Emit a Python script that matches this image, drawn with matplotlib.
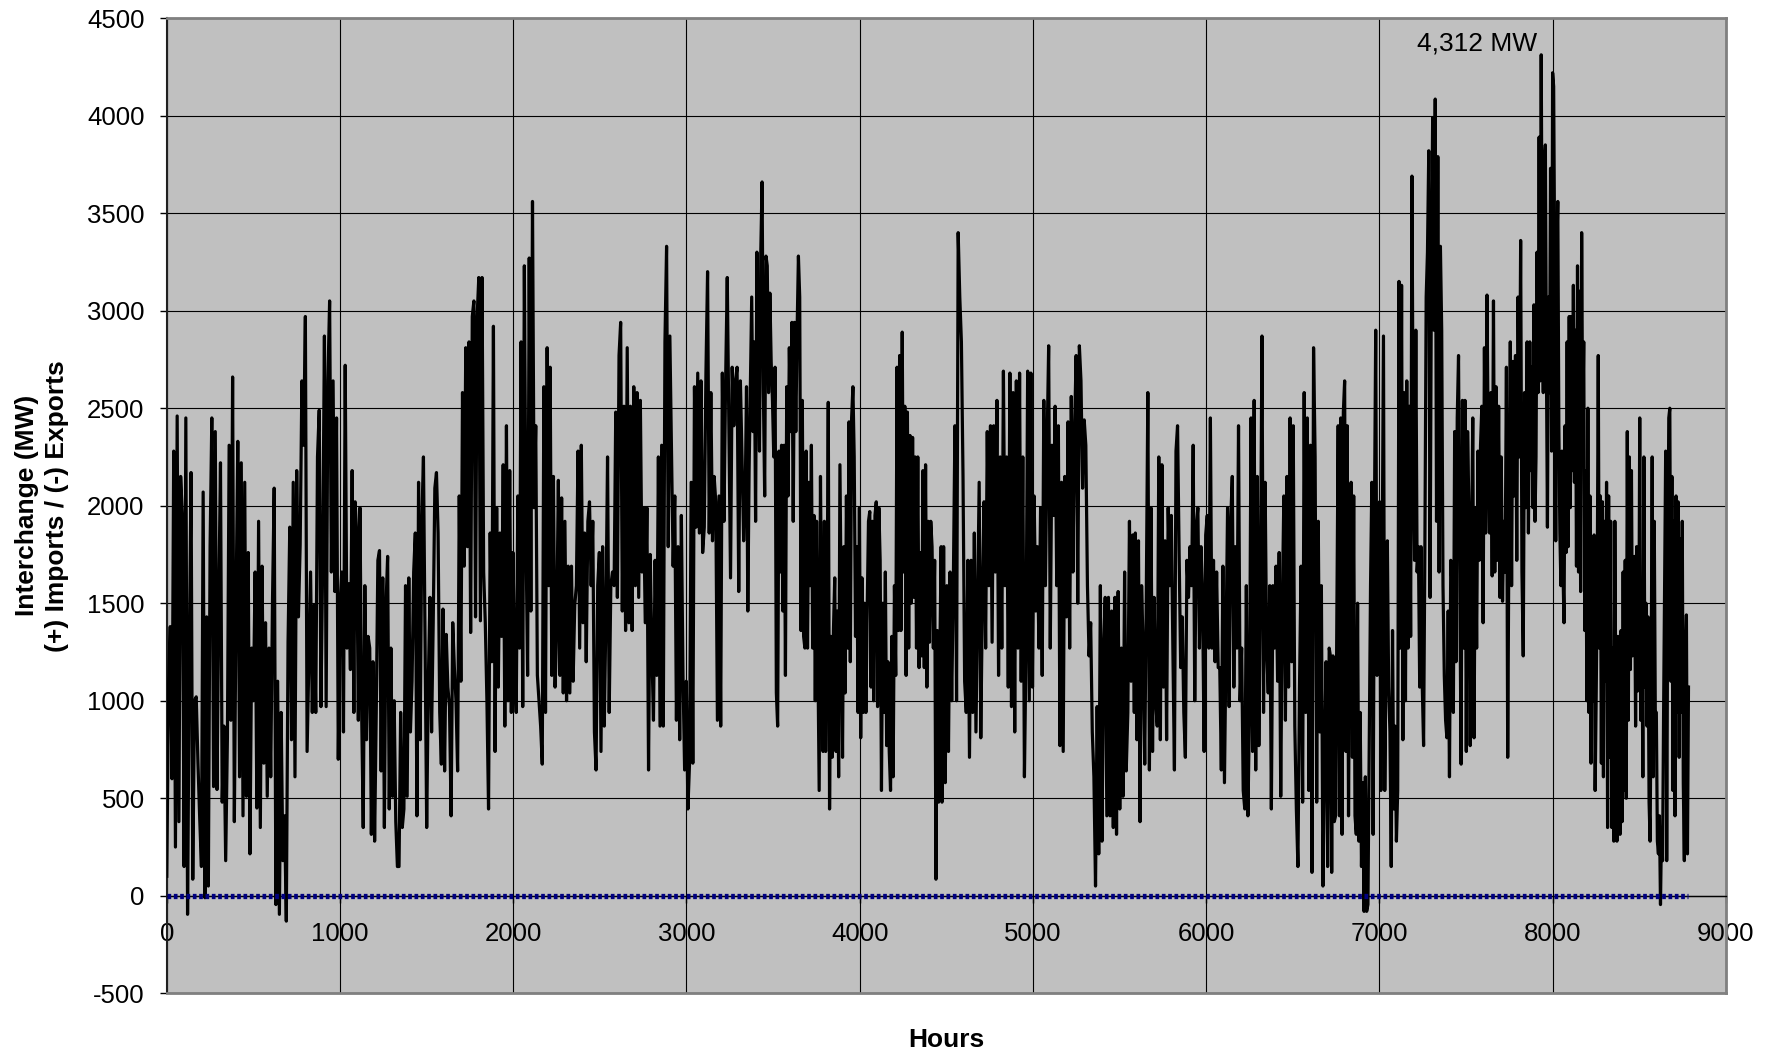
import numpy as np
import matplotlib.pyplot as plt
from matplotlib.ticker import MultipleLocator

plt.rcParams['font.family'] = ['Liberation Sans', 'DejaVu Sans']
plt.rcParams['axes.unicode_minus'] = False

# hourly interchange in 8 stretches (start hour, end hour, values in MW)
seg_start = [0, 1087, 2213, 3339, 4475, 5591, 6717, 7868]
seg_end = [1080, 2205, 3330, 4470, 5585, 6710, 7860, 8784]

mw_1 = [100, 1070, 1380, 600, 2280, 250, 2460, 380, 2150, 1950,
        150, 2450, -95, 1200, 2170, 85, 1000, 1020, 680, 400,
        150, 2070, -10, 1430, 50, 1790, 2450, 560, 2380, 545,
        1500, 2220, 480, 870, 180, 810, 2310, 900, 2660, 380,
        1500, 2330, 610, 2220, 410, 2120, 510, 1760, 215, 1270,
        1000, 1660, 450, 1920, 350, 1690, 680, 1400, 510, 1270,
        610, 1500, 2090, -45, 1100, -95, 940, 180, 410, -130,
        1300, 1890, 800, 2120, 610, 2180, 1430, 1800, 2640, 2310,
        2970, 740, 1200, 1660, 940, 1490, 940, 2250, 2490, 970,
        1720, 2870, 970, 2640, 3050, 1660, 2640, 1560, 2450, 700,
        1490, 1660, 840, 2720, 1270, 1600, 1160, 2180, 940]

mw_2 = [2020, 1860, 900, 1990, 970, 350, 1590, 800, 1330, 1270,
        315, 1200, 280, 940, 1720, 1770, 640, 1630, 350, 1490,
        1740, 445, 1270, 510, 1000, 380, 150, 150, 940, 350,
        445, 1590, 510, 1630, 840, 1100, 1660, 1860, 410, 2120,
        800, 1920, 2250, 1270, 350, 1100, 1530, 840, 1400, 2090,
        2170, 1860, 940, 675, 1470, 640, 1340, 1070, 970, 410,
        1400, 1170, 1000, 640, 2050, 1100, 2580, 1690, 2810, 1790,
        2840, 1350, 2970, 3050, 1430, 2970, 3170, 1410, 3170, 1660,
        1400, 1000, 445, 1860, 1200, 2920, 740, 1990, 1070, 1860,
        1330, 2210, 870, 2410, 1000, 2180, 940, 1760, 1200, 940,
        2050, 1270, 2840, 970, 3230, 1860, 1130, 3270, 1460, 3560,
        1990, 2410, 1130, 1000, 870, 675, 2610, 940, 2810, 1590]

mw_3 = [2710, 1130, 2150, 1070, 1360, 2130, 1130, 2040, 1040, 1920,
        1000, 1690, 1040, 1690, 1100, 1490, 1590, 2280, 1270, 2310,
        1400, 1860, 1200, 1920, 2020, 1590, 1920, 840, 645, 1590,
        1760, 740, 1790, 870, 1430, 2250, 940, 1590, 1660, 1590,
        2480, 1530, 2770, 2940, 1460, 2510, 1360, 2810, 1400, 2510,
        1360, 2610, 1590, 2580, 1530, 2540, 1660, 1990, 1400, 1990,
        645, 1750, 1270, 900, 1720, 1130, 2250, 870, 2310, 870,
        2840, 3330, 1790, 2870, 2280, 1690, 2050, 900, 1790, 800,
        1950, 1130, 645, 1100, 445, 680, 2120, 680, 2610, 1890,
        2680, 1860, 2640, 1760, 1890, 2680, 3200, 1860, 2580, 1820,
        2150, 2020, 900, 2050, 870, 2680, 1920, 2640, 3170, 2410,
        1630, 2710, 2410, 2640, 2710, 1560, 2640, 2250, 1820]

mw_4 = [2050, 2610, 1460, 2180, 2610, 3070, 2380, 2840, 1920, 3300,
        2710, 2280, 3300, 3660, 2580, 2050, 3280, 3230, 2580, 3090,
        2740, 2540, 2250, 2710, 1040, 870, 2280, 1660, 2310, 1460,
        2310, 1130, 2610, 2050, 2810, 2380, 2940, 1920, 2940, 2380,
        2900, 3280, 3070, 1360, 2540, 1330, 1270, 2280, 1270, 2120,
        1590, 2310, 1270, 1950, 1000, 1920, 1200, 540, 2150, 1270,
        740, 1920, 740, 1360, 2530, 445, 1330, 710, 1360, 1630,
        740, 1460, 610, 2210, 1430, 710, 1790, 1040, 2050, 1270,
        2430, 1200, 2450, 2610, 2250, 1330, 1790, 940, 1990, 810,
        1630, 940, 1500, 940, 1460, 1920, 1970, 1070, 1920, 1000,
        1950, 2020, 970, 1990, 1720, 540, 1500, 940, 1660, 770,
        1200, 740, 540, 1330, 610, 1590, 1130, 2710, 1360, 2770,
        1360, 2890, 1660, 2510, 1130, 2480, 1270, 2360, 1500, 2350,
        1530, 2250, 1270, 2250, 1170, 1760, 1230, 2180, 1170, 2210,
        1070, 1920, 1300, 1920, 1790, 1270, 1720, 85, 1360, 480,
        1230, 1790]

mw_5 = [480, 1790, 580, 1590, 740, 1660, 1000, 1590, 2410, 1000,
        3400, 3070, 2840, 2150, 1100, 940, 1720, 710, 1720, 940,
        1860, 840, 1460, 2120, 810, 1530, 2020, 1270, 2380, 1590,
        2410, 1300, 2410, 1660, 2540, 1130, 2250, 1270, 2690, 1590,
        2250, 1070, 2680, 970, 2580, 840, 2640, 1270, 2680, 1100,
        2250, 610, 1270, 2690, 1000, 2680, 1070, 2050, 1460, 1790,
        1270, 1990, 1130, 2540, 1590, 2300, 2820, 1270, 2310, 1950,
        2510, 1590, 2410, 770, 2120, 740, 2150, 1430, 2430, 1270,
        2560, 1660, 2380, 2770, 1500, 2820, 2640, 2090, 2440, 2310,
        1590, 1230, 1400, 840, 610, 50, 970, 215, 1590, 280,
        1270, 1530, 410, 1530, 410, 1460, 350, 1530, 315, 1560,
        445, 1270, 510, 1660, 640, 940, 1920, 1100, 1850, 940]

mw_6 = [1860, 800, 1820, 380, 1590, 1270, 675, 1530, 2580, 645,
        1990, 740, 1530, 1000, 870, 2250, 800, 2210, 1070, 1820,
        800, 1990, 1590, 1950, 1270, 645, 2280, 2410, 1760, 1170,
        1430, 940, 710, 1720, 1530, 1790, 1590, 2310, 1000, 1890,
        1990, 1270, 1790, 1530, 740, 1850, 1950, 1270, 2450, 1270,
        1720, 1200, 1660, 1170, 1170, 645, 1690, 580, 1270, 1990,
        970, 1920, 2150, 1070, 1790, 1270, 2410, 1000, 1270, 540,
        445, 1590, 410, 940, 2450, 740, 2540, 645, 2150, 770,
        1590, 2870, 940, 2120, 1270, 1040, 1590, 445, 1590, 1270,
        1690, 1100, 1760, 510, 1490, 2050, 900, 2150, 1070, 2450,
        1200, 2410, 870, 445, 150, 1070, 1690, 480, 2580, 940,
        2450, 540, 2310, 120, 2810, 2250, 480, 1920, 840, 1590,
        50, 740, 1200, 150, 1270]

mw_7 = [1230, 120, 1230, 380, 410, 1460, 2410, 410, 2450, 315,
        2480, 2640, 740, 2410, 410, 1590, 2120, 710, 2050, 410,
        315, 1500, 280, 940, 150, 580, -80, 610, -80, -45,
        770, 1590, 2120, 315, 1920, 2900, 1130, 1790, 2020, 540,
        1720, 2870, 540, 1230, 1820, 1070, 840, 150, 1360, 445,
        870, 280, 540, 3150, 1270, 3130, 800, 2580, 1000, 2640,
        1270, 2510, 1330, 3690, 2250, 1720, 2900, 1660, 1790, 1070,
        1790, 1070, 770, 1790, 3070, 3300, 3820, 1530, 3130, 3990,
        2900, 4085, 1920, 3790, 1660, 3330, 2900, 1590, 1130, 900,
        810, 1460, 610, 1720, 1590, 940, 2380, 1200, 2450, 2770,
        1590, 675, 2540, 1270, 2540, 740, 2380, 1990, 770, 1720,
        2450, 810, 1990, 1270, 2280, 1720, 2310, 2510, 1400, 2810,
        1860, 3080, 2250, 1860, 2580, 1640, 3050, 1660, 2610, 1720,
        2510, 1530, 2250, 1510, 1920, 1660, 2710, 710, 1920, 2840,
        1590, 2740, 2050, 2770, 1720, 3070, 2250, 3360, 1660, 1230,
        2580, 1990, 2840, 1860]

mw_8 = [2840, 2180, 2710, 1990, 3030, 1920, 2250, 3300, 2580, 3890,
        2640, 4312, 3070, 2580, 3760, 3850, 2740, 1890, 3070, 2580,
        3730, 2280, 4220, 4150, 3230, 1820, 3300, 3560, 2410, 1860,
        1590, 2280, 1660, 1400, 2410, 1760, 2840, 1790, 2970, 1990,
        2970, 2180, 3130, 2120, 2900, 1690, 3230, 1660, 3100, 1560,
        3400, 2380, 2840, 1360, 2180, 1000, 2500, 940, 2050, 680,
        1720, 1000, 1850, 540, 1020, 1570, 2770, 1270, 2050, 680,
        2020, 610, 1920, 1100, 2120, 350, 2050, 710, 1920, 350,
        1270, 280, 1920, 900, 280, 1330, 1130, 315, 1360, 380,
        1660, 540, 1720, 500, 2380, 900, 2250, 1160, 2180, 1230,
        1660, 1740, 870, 1790, 1050, 1100, 2450, 900, 1460, 610,
        2250, 1070, 1500, 870, 1430, 480, 280, 1100, 2250, 610,
        1920, 940, 940, 280, 215, 410, -45, 350, 180, 940,
        1590, 2280, 180, 1590, 2450, 2500, 1100, 2150, 540, 1920,
        410, 2050, 940, 2020, 710, 1830, 940, 1920, 575, 180,
        1230, 1440, 215, 1070]

segments = [mw_1, mw_2, mw_3, mw_4, mw_5, mw_6, mw_7, mw_8]

# flat zero series (blue)
zero_hours = [0, 8784]
zero_mw = [0, 0]

peak_label = '4,312 MW'

hours = []
mw = []
for s, e, vals in zip(seg_start, seg_end, segments):
    hours.extend(np.linspace(s, e, len(vals)))
    mw.extend(vals)

fig = plt.figure(figsize=(17.78, 10.55), dpi=100)
ax = fig.add_axes([0.0938, 0.0585, 0.8769, 0.9243])
ax.set_facecolor('#C0C0C0')

ax.plot(hours, mw, color='black', lw=2.3, zorder=3)
ax.plot(zero_hours, zero_mw, color='#000080', lw=3.8, ls=(0, (0.7, 0.5)), zorder=4)

ax.set_xlim(0, 9000)
ax.set_ylim(-500, 4500)
ax.xaxis.set_major_locator(MultipleLocator(1000))
ax.yaxis.set_major_locator(MultipleLocator(500))
ax.grid(True, color='black', lw=0.8, zorder=1)
ax.set_axisbelow(True)

# excel style: category axis crosses at zero
ax.spines['bottom'].set_position(('data', 0))
ax.spines['bottom'].set_color('black')
ax.spines['bottom'].set_linewidth(1)
ax.spines['left'].set_color('#202020')
ax.spines['left'].set_linewidth(1.5)
for side in ['top', 'right']:
    ax.spines[side].set_color('#808080')
    ax.spines[side].set_linewidth(2)
ax.axhline(-500, color='#808080', lw=2, clip_on=False, zorder=5)

ax.tick_params(axis='both', labelsize=18.5, direction='out', length=5, width=1)
ax.tick_params(axis='y', pad=11)
ax.tick_params(axis='x', pad=14)

ax.text(7563, 4372, peak_label, fontsize=19, ha='center', va='center')

ax.set_xlabel('Hours', fontsize=19, fontweight='bold')
ax.xaxis.set_label_coords(0.5, -0.048)
ax.xaxis.label.set_va('center')
ax.set_ylabel('Interchange (MW)\n(+) Imports / (-) Exports', fontsize=19,
              fontweight='bold', linespacing=1.3)
ax.yaxis.set_label_coords(-0.080, 0.5)
ax.yaxis.label.set_va('center')

plt.savefig('out.png', dpi=100)
